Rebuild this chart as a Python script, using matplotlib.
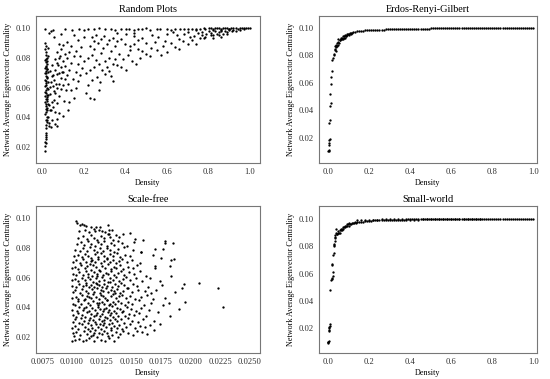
import numpy as np
import matplotlib
matplotlib.use("Agg")
import matplotlib.pyplot as plt

plt.rcParams['font.family'] = ['Liberation Serif', 'DejaVu Serif']

titles = ["Random Plots", "Erdos-Renyi-Gilbert", "Scale-free", "Small-world"]
xlabel = "Density"
ylabel = "Network Average Eigenvector Centrality"

random_pts = [
    (0.0121,0.0172),(0.0118,0.0208),(0.0153,0.0231),(0.0197,0.0224),(0.0176,0.0279),(0.0204,0.0291),(0.0162,0.0348),
    (0.0213,0.0366),(0.0238,0.0384),(0.0291,0.0402),(0.0147,0.0421),(0.0202,0.0437),(0.0251,0.0463),(0.0183,0.0479),
    (0.0124,0.0503),(0.0209,0.0511),(0.0247,0.0526),(0.0156,0.0541),(0.0221,0.0553),(0.0117,0.0571),(0.0196,0.0584),
    (0.0283,0.0592),(0.0149,0.0613),(0.0204,0.0628),(0.0126,0.0651),(0.0252,0.0664),(0.0181,0.0679),(0.0119,0.0702),
    (0.0201,0.0713),(0.0152,0.0731),(0.0198,0.0748),(0.0184,0.0771),(0.0151,0.0789),(0.0207,0.0803),(0.0179,0.0822),
    (0.0199,0.0841),(0.0154,0.0859),(0.0203,0.0878),(0.0148,0.0902),(0.0122,0.0993),(0.0214,0.0781),(0.0226,0.0762),
    (0.0192,0.0697),(0.0246,0.0723),(0.0177,0.0618),(0.0193,0.0562),(0.0254,0.0492),(0.0306,0.0362),(0.0348,0.0341),
    (0.0402,0.0334),(0.0611,0.0352),(0.0698,0.0344),(0.0223,0.0672),(0.0238,0.0534),(0.0168,0.0458),(0.0231,0.0399),
    (0.0188,0.0792),(0.0171,0.0742),(0.0209,0.0728),(0.0166,0.0643),(0.0218,0.0598),(0.0185,0.0524),(0.0201,0.0487),
    (0.0232,0.0447),(0.0172,0.0384),(0.0195,0.0327),(0.0205,0.0268),(0.0186,0.0253),(0.0311,0.0486),(0.0283,0.0552),
    (0.0295,0.0637),(0.0272,0.0706),(0.0264,0.0813),(0.0277,0.0869),
    (0.0403,0.0451),(0.0497,0.0472),(0.0612,0.0438),(0.0448,0.0503),(0.0553,0.0518),(0.0707,0.0497),(0.0391,0.0554),
    (0.0618,0.0561),(0.0812,0.0547),(0.0356,0.0602),(0.0497,0.0613),(0.0702,0.0596),(0.0893,0.0588),(0.0414,0.0638),
    (0.0589,0.0653),(0.0796,0.0627),(0.1012,0.0618),(0.0507,0.0684),(0.0713,0.0692),(0.0887,0.0668),(0.1104,0.0657),
    (0.0381,0.0709),(0.0618,0.0722),(0.0809,0.0698),(0.1021,0.0703),(0.1193,0.0687),(0.0482,0.0751),(0.0697,0.0763),
    (0.0912,0.0739),(0.1096,0.0748),(0.1307,0.0718),(0.0594,0.0793),(0.0815,0.0802),(0.0988,0.0781),(0.1214,0.0797),
    (0.1392,0.0768),(0.0712,0.0843),(0.0897,0.0858),(0.1108,0.0827),(0.1297,0.0838),(0.1511,0.0816),(0.0816,0.0897),
    (0.0993,0.0886),(0.1212,0.0908),(0.1405,0.0879),(0.0587,0.0943),(0.0908,0.0962),(0.0402,0.0981),(0.0311,0.0969),
    (0.0509,0.0988),(0.0981,0.0409),(0.1218,0.0447),(0.1302,0.0503),(0.0789,0.0428),(0.1514,0.0527),(0.1397,0.0583),
    (0.1602,0.0596),(0.1716,0.0642),(0.1503,0.0661),(0.1811,0.0683),(0.1609,0.0707),(0.1904,0.0734),(0.1707,0.0758),
    (0.2012,0.0783),(0.1797,0.0812),(0.1612,0.0849),(0.1889,0.0872),(0.1716,0.0918),(0.1996,0.0943),(0.1508,0.0952),
    (0.0552,0.0578),(0.0453,0.0677),(0.0668,0.0627),(0.0756,0.0751),(0.1151,0.0583),(0.0861,0.0812),(0.1248,0.0623),
    (0.0352,0.0452),(0.0448,0.0381),(0.0727,0.0392),(0.1062,0.0511),(0.0939,0.0703),
    (0.2107,0.0562),(0.2288,0.0531),(0.2486,0.0522),(0.2711,0.0581),(0.2204,0.0618),(0.2392,0.0652),(0.2613,0.0673),
    (0.2795,0.0641),(0.3016,0.0693),(0.2093,0.0701),(0.2307,0.0722),(0.2512,0.0741),(0.2889,0.0718),(0.3193,0.0709),
    (0.3396,0.0643),(0.3287,0.0681),(0.2213,0.0803),(0.2417,0.0818),(0.2602,0.0787),(0.2806,0.0832),(0.3011,0.0779),
    (0.3197,0.0803),(0.3412,0.0757),(0.3608,0.0752),(0.3791,0.0738),(0.4012,0.0722),(0.2296,0.0881),(0.2513,0.0862),
    (0.2689,0.0903),(0.2908,0.0868),(0.3102,0.0893),(0.3311,0.0848),(0.3498,0.0882),(0.3706,0.0827),(0.3893,0.0791),
    (0.4107,0.0818),(0.4312,0.0782),(0.4496,0.0761),(0.4712,0.0798),(0.2388,0.0942),(0.2597,0.0958),(0.2813,0.0927),
    (0.2992,0.0951),(0.3217,0.0918),(0.3402,0.0937),(0.3589,0.0912),(0.3811,0.0929),(0.4003,0.0897),(0.4216,0.0882),
    (0.4398,0.0891),(0.4611,0.0863),(0.4803,0.0849),(0.5012,0.0827),(0.5193,0.0812),(0.3612,0.0971),(0.4011,0.0962),
    (0.4397,0.0948),(0.4803,0.0932),(0.4992,0.0903),(0.5213,0.0869),(0.5506,0.0852),(0.5697,0.0821),(0.5998,0.0838),
    (0.5812,0.0882),(0.5407,0.0908),(0.5588,0.0942),(0.6211,0.0902),(0.6397,0.0876),(0.6602,0.0858),(0.6788,0.0912),
    (0.7012,0.0891),(0.7196,0.0918),(0.7408,0.0897),(0.7611,0.0938),(0.7803,0.0932),(0.6497,0.0953),(0.6812,0.0961),
    (0.7011,0.0972),(0.6008,0.0963),(0.6301,0.0978),(0.3502,0.0792),(0.3108,0.0742),(0.4211,0.0853),(0.4604,0.0922),
    (0.2711,0.0762),(0.5306,0.0958),(0.5893,0.0917),(0.6604,0.0927),(0.2493,0.0912),(0.4407,0.0971),
    (0.1109,0.0998),(0.1412,0.0991),(0.1793,0.0997),(0.2016,0.0989),(0.2207,0.0996),(0.2488,0.0993),(0.2711,0.0999),
    (0.3013,0.0994),(0.3302,0.0998),(0.3489,0.0989),(0.3806,0.0997),(0.4012,0.0993),(0.4188,0.0998),(0.4407,0.0991),
    (0.4602,0.0997),(0.4793,0.0994),(0.5011,0.0999),(0.5207,0.0991),(0.5512,0.0998),(0.5689,0.0994),(0.6003,0.0998),
    (0.6208,0.0991),(0.6392,0.0997),(0.6611,0.0993),(0.6802,0.0998),(0.7006,0.0994),(0.7189,0.0998),(0.7407,0.0991),
    (0.7603,0.0998),(0.7812,0.0994),(0.8007,0.0999),(0.8211,0.0994),(0.8392,0.0999),(0.8603,0.0995),(0.8807,0.0999),
    (0.9012,0.0997),(0.9193,0.0999),(0.9407,0.0998),(0.9602,0.1),(0.9801,0.1),(1.0,0.1),
    (0.7512,0.0968),(0.7697,0.0978),(0.7903,0.0962),(0.8004,0.0981),(0.8106,0.0971),(0.8211,0.0952),(0.8312,0.0982),
    (0.8407,0.0963),(0.8503,0.0972),(0.8611,0.0983),(0.8702,0.0961),(0.8806,0.0979),(0.8903,0.0972),(0.9008,0.0988),
    (0.9111,0.0981),(0.9203,0.0989),(0.9307,0.0983),(0.9502,0.0991),(0.9703,0.0993),(0.7811,0.0941),(0.8203,0.0932),
    (0.8608,0.0942),(0.7302,0.0951),(0.7108,0.0943),(0.8512,0.0958),(0.8912,0.0961),(0.8104,0.0958),(0.7703,0.0957),
    (0.8106,0.1),(0.8302,0.1),(0.8511,0.1),(0.8704,0.1),(0.8902,0.1),(0.9103,0.1),(0.9306,0.1),(0.9502,0.1),
    (0.9701,0.1),(0.9903,0.1),(0.7402,0.0996),(0.7807,0.0999),(0.8208,0.0987),(0.8604,0.0989),(0.9009,0.0993),
]

er_pts = [
    (0.0,0.010),(0.002,0.0105),(0.003,0.011),(0.002,0.015),(0.005,0.016),(0.006,0.018),(0.008,0.019),
    (0.005,0.031),(0.01,0.033),(0.008,0.043),(0.012,0.045),(0.01,0.052),(0.012,0.059),(0.015,0.064),
    (0.018,0.069),(0.02,0.077),(0.025,0.078),(0.028,0.081),(0.03,0.08),(0.032,0.084),(0.035,0.087),
    (0.035,0.085),(0.04,0.088),(0.04,0.086),(0.045,0.089),(0.05,0.09),(0.05,0.092),(0.055,0.091),
    (0.06,0.093),(0.065,0.092),(0.07,0.094),(0.075,0.093),(0.08,0.095),(0.085,0.094),(0.09,0.095),
    (0.095,0.0955),(0.1,0.096),(0.105,0.0962),(0.11,0.0965),(0.115,0.0967),(0.12,0.097),(0.13,0.0972),
    (0.14,0.0975),(0.15,0.0977),(0.16,0.098),(0.17,0.0982),(0.18,0.0983),(0.19,0.0984),
    (0.20,0.0985),(0.21,0.0986),(0.22,0.0987),(0.23,0.0987),(0.24,0.0988),(0.25,0.0988),(0.26,0.0989),
    (0.27,0.0989),(0.28,0.099),(0.29,0.099),(0.30,0.099),(0.31,0.0991),(0.32,0.0991),(0.33,0.0992),
    (0.34,0.0992),(0.35,0.0992),(0.36,0.0993),(0.37,0.0993),(0.38,0.0993),(0.39,0.0994),(0.40,0.0994),
    (0.41,0.0994),(0.42,0.0995),(0.43,0.0995),(0.44,0.0995),(0.45,0.0995),(0.46,0.0996),(0.47,0.0996),
    (0.48,0.0996),(0.49,0.0996),(0.50,0.0997),(0.51,0.0997),(0.52,0.0997),(0.53,0.0997),(0.54,0.0997),
    (0.55,0.0998),(0.56,0.0998),(0.57,0.0998),(0.58,0.0998),(0.59,0.0998),(0.60,0.0998),(0.61,0.0998),
    (0.62,0.0998),(0.63,0.0999),(0.64,0.0999),(0.65,0.0999),(0.66,0.0999),(0.67,0.0999),(0.68,0.0999),
    (0.69,0.0999),(0.70,0.0999),(0.71,0.0999),(0.72,0.0999),(0.73,0.0999),(0.74,0.0999),(0.75,0.1),
    (0.76,0.1),(0.77,0.1),(0.78,0.1),(0.79,0.1),(0.80,0.1),(0.81,0.1),(0.82,0.1),(0.83,0.1),(0.84,0.1),
    (0.85,0.1),(0.86,0.1),(0.87,0.1),(0.88,0.1),(0.89,0.1),(0.90,0.1),(0.91,0.1),(0.92,0.1),(0.93,0.1),
    (0.94,0.1),(0.95,0.1),(0.96,0.1),(0.97,0.1),(0.98,0.1),(0.99,0.1),(1.0,0.1),
    (0.038,0.083),(0.042,0.087),(0.048,0.088),(0.052,0.089),(0.058,0.091),(0.062,0.092),(0.068,0.093),
    (0.072,0.092),(0.078,0.094),(0.082,0.093),(0.088,0.094),(0.092,0.096),(0.1,0.095),(0.11,0.096),
]

sf_pts = [
    (0.01004,0.0172),(0.01027,0.0176),(0.01058,0.0183),(0.01093,0.0171),(0.01117,0.0179),(0.01142,0.0188),(0.01186,0.0174),
    (0.01213,0.0196),(0.01248,0.0181),(0.01279,0.0173),(0.01312,0.0192),(0.01355,0.0169),(0.01386,0.0201),(0.01019,0.0205),
    (0.01163,0.0207),
    (0.01011,0.0224),(0.01036,0.0231),(0.01071,0.0213),(0.01098,0.0242),(0.01124,0.0219),(0.01152,0.0236),(0.01177,0.0211),
    (0.01195,0.0247),(0.01228,0.0227),(0.01254,0.0215),(0.01268,0.0239),(0.01297,0.0222),(0.01325,0.0244),(0.01341,0.0212),
    (0.01372,0.0233),(0.01404,0.0218),(0.01433,0.0241),(0.01468,0.0226),(0.01512,0.0214),(0.01547,0.0238),(0.01593,0.0229),
    (0.01633,0.0221),(0.01695,0.0246),(0.01189,0.0228),(0.01301,0.0207),
    (0.01002,0.0262),(0.01029,0.0271),(0.01047,0.0254),(0.01083,0.0283),(0.01106,0.0266),(0.01131,0.0251),(0.01158,0.0278),
    (0.01172,0.0259),(0.01204,0.0287),(0.01219,0.0268),(0.01243,0.0253),(0.01262,0.0276),(0.01284,0.0264),(0.01309,0.0289),
    (0.01331,0.0257),(0.01352,0.0273),(0.01378,0.0262),(0.01397,0.0281),(0.01421,0.0255),(0.01456,0.0269),(0.01489,0.0285),
    (0.01534,0.0258),(0.01576,0.0274),(0.01614,0.0263),(0.01661,0.0282),(0.01744,0.0287),(0.01236,0.0283),
    (0.01008,0.0302),(0.01022,0.0318),(0.01063,0.0295),(0.01079,0.0324),(0.01101,0.0309),(0.01137,0.0293),(0.01149,0.0327),
    (0.01181,0.0311),(0.01198,0.0298),(0.01225,0.0321),(0.01251,0.0305),(0.01273,0.0291),(0.01292,0.0329),(0.01318,0.0313),
    (0.01338,0.0296),(0.01361,0.0322),(0.01383,0.0307),(0.01412,0.0317),(0.01439,0.0294),(0.01475,0.0326),(0.01503,0.0308),
    (0.01554,0.0299),(0.01602,0.0319),(0.01689,0.0304),(0.01267,0.0316),(0.01144,0.0315),
    (0.01005,0.0344),(0.01031,0.0336),(0.01052,0.0361),(0.01088,0.0347),(0.01112,0.0333),(0.01128,0.0366),(0.01163,0.0352),
    (0.01184,0.0338),(0.01209,0.0363),(0.01232,0.0341),(0.01257,0.0356),(0.01276,0.0334),(0.01303,0.0368),(0.01322,0.0349),
    (0.01347,0.0335),(0.01369,0.0359),(0.01391,0.0343),(0.01418,0.0364),(0.01449,0.0339),(0.01482,0.0355),(0.01523,0.0346),
    (0.01567,0.0362),(0.01621,0.0337),(0.01828,0.0342),(0.01331,0.0357),(0.01201,0.0349),
    (0.01001,0.0383),(0.01039,0.0376),(0.01061,0.0398),(0.01092,0.0381),(0.01119,0.0404),(0.01145,0.0372),(0.01169,0.0392),
    (0.01191,0.0379),(0.01216,0.0401),(0.01239,0.0385),(0.01265,0.0373),(0.01288,0.0396),(0.01314,0.0382),(0.01334,0.0407),
    (0.01357,0.0377),(0.01381,0.0394),(0.01406,0.0386),(0.01428,0.0371),(0.01462,0.0399),(0.01498,0.0384),(0.01541,0.0375),
    (0.01583,0.0393),(0.01648,0.0381),(0.01723,0.0368),(0.01902,0.0386),(0.01273,0.0389),(0.01102,0.0395),
    (0.01006,0.0423),(0.01024,0.0412),(0.01055,0.0438),(0.01076,0.0419),(0.01103,0.0446),(0.01134,0.0427),(0.01155,0.0414),
    (0.01178,0.0441),(0.01207,0.0425),(0.01223,0.0411),(0.01249,0.0436),(0.01271,0.0421),(0.01295,0.0448),(0.01316,0.0416),
    (0.01344,0.0432),(0.01366,0.0418),(0.01389,0.0443),(0.01415,0.0428),(0.01443,0.0413),(0.01471,0.0437),(0.01508,0.0422),
    (0.01562,0.0445),(0.01607,0.0417),(0.01663,0.0431),(0.01765,0.0411),(0.01819,0.0426),(0.01951,0.0434),(0.02271,0.0401),
    (0.01228,0.0429),(0.01322,0.0424),
    (0.01003,0.0463),(0.01033,0.0471),(0.01049,0.0452),(0.01085,0.0482),(0.01109,0.0458),(0.01126,0.0476),(0.01161,0.0461),
    (0.01174,0.0489),(0.01203,0.0468),(0.01231,0.0453),(0.01246,0.0479),(0.01279,0.0464),(0.01298,0.0451),(0.01327,0.0474),
    (0.01349,0.0486),(0.01374,0.0459),(0.01396,0.0473),(0.01422,0.0484),(0.01453,0.0462),(0.01486,0.0477),(0.01529,0.0455),
    (0.01578,0.0469),(0.01631,0.0481),(0.01684,0.0457),(0.01784,0.0463),(0.01258,0.0472),(0.01142,0.0467),
    (0.01007,0.0502),(0.01028,0.0516),(0.01066,0.0495),(0.01081,0.0524),(0.01114,0.0508),(0.01138,0.0493),(0.01166,0.0519),
    (0.01188,0.0504),(0.01211,0.0527),(0.01234,0.0497),(0.01261,0.0512),(0.01283,0.0529),(0.01306,0.0499),(0.01329,0.0515),
    (0.01353,0.0506),(0.01377,0.0523),(0.01402,0.0494),(0.01431,0.0511),(0.01464,0.0526),(0.01509,0.0501),(0.01558,0.0518),
    (0.01612,0.0507),(0.01667,0.0492),(0.01711,0.0514),(0.01864,0.0503),(0.01931,0.0528),(0.01241,0.0518),(0.01361,0.0498),
    (0.01002,0.0543),(0.01037,0.0535),(0.01059,0.0558),(0.01094,0.0541),(0.01118,0.0566),(0.01141,0.0533),(0.01159,0.0552),
    (0.01183,0.0538),(0.01199,0.0561),(0.01226,0.0547),(0.01252,0.0534),(0.01269,0.0559),(0.01293,0.0544),(0.01319,0.0567),
    (0.01338,0.0537),(0.01363,0.0553),(0.01387,0.0541),(0.01411,0.0562),(0.01438,0.0546),(0.01474,0.0532),(0.01517,0.0557),
    (0.01546,0.0541),(0.01639,0.0536),(0.01758,0.0548),(0.01942,0.0553),(0.02073,0.0562),(0.02231,0.0531),(0.01207,0.0553),
    (0.01114,0.0549),
    (0.01004,0.0583),(0.01025,0.0592),(0.01051,0.0576),(0.01087,0.0598),(0.01107,0.0581),(0.01133,0.0604),(0.01152,0.0587),
    (0.01176,0.0573),(0.01205,0.0596),(0.01229,0.0579),(0.01255,0.0601),(0.01274,0.0586),(0.01301,0.0572),(0.01324,0.0594),
    (0.01348,0.0582),(0.01371,0.0606),(0.01394,0.0577),(0.01426,0.0591),(0.01459,0.0603),(0.01493,0.0581),(0.01536,0.0595),
    (0.01589,0.0578),(0.01657,0.0599),(0.01742,0.0574),(0.01832,0.0608),
    (0.01009,0.0622),(0.01034,0.0614),(0.01062,0.0637),(0.01089,0.0619),(0.01116,0.0643),(0.01135,0.0627),(0.01167,0.0612),
    (0.01187,0.0639),(0.01213,0.0624),(0.01237,0.0646),(0.01259,0.0617),(0.01285,0.0633),(0.01307,0.0621),(0.01333,0.0644),
    (0.01356,0.0615),(0.01384,0.0631),(0.01409,0.0642),(0.01436,0.0618),(0.01478,0.0634),(0.01521,0.0625),(0.01573,0.0641),
    (0.01624,0.0613),(0.01213,0.0608),
    (0.01003,0.0663),(0.01029,0.0671),(0.01054,0.0656),(0.01078,0.0684),(0.01111,0.0662),(0.01129,0.0678),(0.01157,0.0654),
    (0.01181,0.0687),(0.01203,0.0669),(0.01227,0.0652),(0.01254,0.0681),(0.01277,0.0666),(0.01302,0.0689),(0.01325,0.0658),
    (0.01351,0.0674),(0.01373,0.0661),(0.01401,0.0683),(0.01429,0.0657),(0.01468,0.0672),(0.01511,0.0664),(0.01552,0.0686),
    (0.01701,0.0661),(0.01703,0.0676),(0.01823,0.0679),
    (0.01006,0.0703),(0.01038,0.0716),(0.01067,0.0697),(0.01093,0.0722),(0.01121,0.0708),(0.01148,0.0694),(0.01171,0.0719),
    (0.01196,0.0706),(0.01222,0.0727),(0.01247,0.0699),(0.01268,0.0713),(0.01296,0.0724),(0.01318,0.0702),(0.01344,0.0717),
    (0.01372,0.0695),(0.01398,0.0711),(0.01423,0.0726),(0.01461,0.0704),(0.01504,0.0718),(0.01573,0.0701),(0.01164,0.0712),
    (0.01016,0.0743),(0.01047,0.0751),(0.01084,0.0736),(0.01108,0.0762),(0.01139,0.0745),(0.01164,0.0731),(0.01192,0.0758),
    (0.01217,0.0739),(0.01242,0.0765),(0.01266,0.0748),(0.01293,0.0733),(0.01317,0.0756),(0.01346,0.0742),(0.01377,0.0767),
    (0.01408,0.0738),(0.01446,0.0753),(0.01493,0.0744),(0.01582,0.0769),(0.01681,0.0752),(0.01754,0.0731),(0.01863,0.0728),
    (0.01838,0.0721),
    (0.01028,0.0783),(0.01066,0.0776),(0.01097,0.0798),(0.01126,0.0781),(0.01153,0.0804),(0.01185,0.0787),(0.01209,0.0773),
    (0.01238,0.0796),(0.01262,0.0779),(0.01291,0.0802),(0.01321,0.0784),(0.01352,0.0771),(0.01389,0.0793),(0.01436,0.0807),
    (0.01516,0.0788),(0.01583,0.0775),(0.01771,0.0791),
    (0.01041,0.0823),(0.01073,0.0839),(0.01104,0.0817),(0.01133,0.0846),(0.01162,0.0828),(0.01191,0.0812),(0.01218,0.0841),
    (0.01246,0.0824),(0.01273,0.0849),(0.01299,0.0815),(0.01327,0.0836),(0.01356,0.0821),(0.01386,0.0847),(0.01421,0.0831),
    (0.01462,0.0816),(0.01524,0.0843),(0.01602,0.0853),(0.01786,0.0849),(0.01781,0.0834),(0.01849,0.0836),(0.01697,0.0792),
    (0.01052,0.0864),(0.01093,0.0878),(0.01124,0.0857),(0.01157,0.0889),(0.01186,0.0869),(0.01212,0.0852),(0.01243,0.0883),
    (0.01271,0.0866),(0.01303,0.0893),(0.01319,0.0871),(0.01342,0.0855),(0.01368,0.0886),(0.01394,0.0874),(0.01427,0.0896),
    (0.01486,0.0902),(0.01532,0.0861),(0.01312,0.0897),
    (0.01033,0.0982),(0.01042,0.0971),(0.01064,0.0958),(0.01081,0.0963),(0.01103,0.0952),(0.01117,0.0947),(0.01158,0.0938),
    (0.01183,0.0931),(0.01201,0.0943),(0.01224,0.0921),(0.01257,0.0914),(0.01306,0.0952),(0.01316,0.0923),(0.01062,0.0912),
    (0.01141,0.0904),(0.01236,0.0939),(0.01279,0.0906),(0.01338,0.0918),(0.01191,0.0917),(0.01108,0.0924),
]

sw_pts = [
    (0.0,0.010),(0.001,0.0095),(0.002,0.0105),(0.001,0.0100),
    (0.003,0.018),(0.005,0.019),(0.006,0.021),(0.007,0.022),(0.008,0.023),(0.004,0.020),
    (0.010,0.048),(0.015,0.055),(0.018,0.056),(0.020,0.057),(0.022,0.058),(0.024,0.061),
    (0.016,0.066),(0.020,0.067),(0.024,0.074),(0.026,0.075),(0.028,0.080),(0.029,0.081),
    (0.030,0.082),(0.031,0.084),(0.032,0.086),(0.034,0.087),(0.035,0.088),(0.040,0.093),
    (0.040,0.090),(0.042,0.089),(0.045,0.089),(0.048,0.090),(0.050,0.091),(0.052,0.090),
    (0.055,0.090),(0.058,0.092),(0.060,0.093),(0.062,0.092),(0.065,0.092),(0.068,0.093),
    (0.070,0.094),(0.072,0.093),(0.075,0.094),(0.080,0.095),(0.082,0.094),(0.085,0.095),
    (0.090,0.096),(0.092,0.095),(0.095,0.096),(0.100,0.097),(0.100,0.095),(0.105,0.0965),
    (0.110,0.096),(0.115,0.097),(0.120,0.097),(0.125,0.0972),(0.130,0.0975),(0.135,0.097),
    (0.140,0.099),(0.140,0.0975),(0.150,0.098),(0.160,0.099),(0.160,0.0978),(0.170,0.098),
    (0.180,0.099),(0.180,0.0983),(0.190,0.0985),(0.200,0.099),(0.200,0.0985),
    (0.21,0.0988),(0.23,0.0990),(0.25,0.0991),(0.27,0.0993),(0.29,0.0994),(0.31,0.0995),
    (0.33,0.0995),(0.35,0.0996),(0.37,0.0996),(0.39,0.0997),(0.41,0.0997),(0.43,0.0998),
    (0.45,0.0998),(0.47,0.0998),(0.49,0.0998),(0.51,0.0999),(0.53,0.0999),(0.55,0.0999),
    (0.57,0.0999),(0.59,0.0999),(0.61,0.0999),(0.63,0.1),(0.65,0.1),(0.67,0.1),(0.69,0.1),
    (0.71,0.1),(0.73,0.1),(0.75,0.1),(0.79,0.1),(0.83,0.1),(0.87,0.1),(0.91,0.1),(0.95,0.1),(0.99,0.1),
    (0.22,0.099),(0.22,0.0995),(0.24,0.099),(0.24,0.0995),(0.26,0.0992),(0.26,0.0997),
    (0.28,0.0992),(0.28,0.0997),(0.30,0.0993),(0.30,0.0998),(0.32,0.0993),(0.32,0.0998),
    (0.34,0.0994),(0.34,0.0999),(0.36,0.0994),(0.36,0.0999),(0.38,0.0995),(0.38,0.1),
    (0.40,0.0995),(0.40,0.1),(0.42,0.0996),(0.42,0.1),(0.44,0.0996),(0.44,0.1),
    (0.46,0.0997),(0.46,0.1),(0.48,0.0997),(0.48,0.1),(0.50,0.0997),(0.50,0.1),
    (0.52,0.0998),(0.52,0.1),(0.54,0.0998),(0.54,0.1),(0.56,0.0998),(0.56,0.1),
    (0.58,0.0998),(0.58,0.1),(0.60,0.0999),(0.60,0.1),(0.62,0.0999),(0.62,0.1),
    (0.64,0.0999),(0.64,0.1),(0.66,0.0999),(0.66,0.1),(0.68,0.0999),(0.68,0.1),
    (0.70,0.0999),(0.70,0.1),(0.72,0.0999),(0.72,0.1),(0.74,0.0999),(0.74,0.1),
    (0.76,0.1),(0.78,0.1),(0.80,0.1),(0.82,0.1),(0.84,0.1),(0.86,0.1),(0.88,0.1),
    (0.90,0.1),(0.92,0.1),(0.94,0.1),(0.96,0.1),(0.98,0.1),(1.0,0.1),
    (0.77,0.0999),(0.81,0.0999),(0.85,0.0999),(0.89,0.0999),(0.93,0.0999),(0.97,0.0999),
]

yticks = [0.02, 0.04, 0.06, 0.08, 0.10]
xticks_unit = [0.0, 0.2, 0.4, 0.6, 0.8, 1.0]
xticks_sf = [0.0075, 0.0100, 0.0125, 0.0150, 0.0175, 0.0200, 0.0225, 0.0250]

W, H = 550, 379
fig = plt.figure(figsize=(W/100, H/100), dpi=100)

def ax_at(l, r, t, b):
    return fig.add_axes([l/W, 1-b/H, (r-l)/W, (b-t)/H])

axes = [
    ax_at(36, 260, 16, 163.3),
    ax_at(319, 537, 16, 163.3),
    ax_at(36, 260, 206, 353.3),
    ax_at(319, 537, 206, 353.3),
]
data = [random_pts, er_pts, sf_pts, sw_pts]
xlims = [(-0.030, 1.048), (-0.045, 1.018), (0.00697, 0.02584), (-0.045, 1.018)]
ylims = [(0.009, 0.1083), (0.0013, 0.1088), (0.0088, 0.1083), (0.0017, 0.1095)]

for i, ax in enumerate(axes):
    pts = np.array(data[i])
    ax.scatter(pts[:, 0], pts[:, 1], s=2.8, c='black', marker='o', linewidths=0)
    ax.set_xlim(*xlims[i])
    ax.set_ylim(*ylims[i])
    ax.set_title(titles[i], fontsize=7.4, pad=3)
    ax.set_xlabel(xlabel, fontsize=5.9, labelpad=2)
    ax.set_ylabel(ylabel, fontsize=5.9, labelpad=3)
    ax.set_yticks(yticks)
    ax.set_yticklabels([f"{v:.2f}" for v in yticks])
    if i == 2:
        ax.set_xticks(xticks_sf)
        ax.set_xticklabels([f"{v:.4f}" for v in xticks_sf])
    else:
        ax.set_xticks(xticks_unit)
        ax.set_xticklabels([f"{v:.1f}" for v in xticks_unit])
    ax.tick_params(length=0, labelsize=6.2, pad=3.5, colors='#333333')
    for sp in ax.spines.values():
        sp.set_color('#777777')
        sp.set_linewidth(0.8)

fig.savefig("out.png", dpi=100)
